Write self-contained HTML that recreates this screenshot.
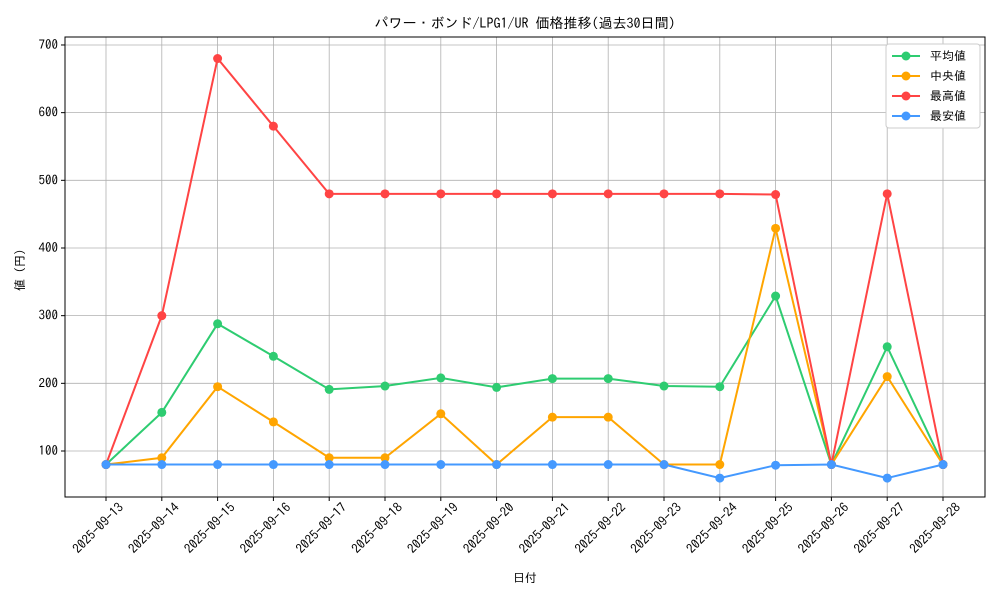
<!DOCTYPE html>
<html><head><meta charset="utf-8"><style>
body{margin:0;background:#fff;}
svg text{font-family:"IPAGothic","Noto Sans CJK JP",monospace;font-size:12px;fill:#000;}
svg text.t{font-size:13px;}
</style></head><body>
<svg id="c" width="1000" height="600" xmlns="http://www.w3.org/2000/svg"></svg>
<script>
const s=document.getElementById('c');
const L=65,R=985,T=37,B=497;
const X=i=>106+i*55.8, Y=v=>451-(v-100)*0.6767;
const dates=[];for(let d=13;d<=28;d++)dates.push('2025-09-'+d);
const series=[
['平均値','#2ecc71',[80,157,288,240,191,196,208,194,207,207,196,195,329,80,254,80]],
['中央値','#ffa500',[80,90,195,143,90,90,155,80,150,150,80,80,429,80,210,80]],
['最高値','#ff4444',[80,300,680,580,480,480,480,480,480,480,480,480,479,80,480,80]],
['最安値','#4499ff',[80,80,80,80,80,80,80,80,80,80,80,60,79,80,60,80]]];
let h='';
for(let i=0;i<16;i++){const x=X(i);h+=`<line x1="${x}" y1="${T}" x2="${x}" y2="${B}" stroke="#b0b0b0" stroke-width="0.8"/>`;
h+=`<line x1="${x}" y1="${B}" x2="${x}" y2="${B+4}" stroke="#000"/>`;
h+=`<text class="t" transform="translate(${x+12},${B+5}) rotate(-45)" text-anchor="end" dominant-baseline="hanging">${dates[i]}</text>`;}
for(let v=100;v<=700;v+=100){const y=Y(v);h+=`<line x1="${L}" y1="${y}" x2="${R}" y2="${y}" stroke="#b0b0b0" stroke-width="0.8"/>`;
h+=`<line x1="${L-4}" y1="${y}" x2="${L}" y2="${y}" stroke="#000"/><text class="t" x="${L-7}" y="${y+4}" text-anchor="end">${v}</text>`;}
h+=`<rect x="${L}" y="${T}" width="${R-L}" height="${B-T}" fill="none" stroke="#000" stroke-width="1"/>`;
for(const [n,c,d] of series){h+=`<polyline fill="none" stroke="${c}" stroke-width="2" points="${d.map((v,i)=>X(i)+','+Y(v)).join(' ')}"/>`;
d.forEach((v,i)=>h+=`<circle cx="${X(i)}" cy="${Y(v)}" r="4.5" fill="${c}"/>`);}
h+=`<rect x="886" y="44" width="94" height="84" fill="#fff" stroke="#ccc" rx="3"/>`;
series.forEach(([n,c],k)=>{const y=56+k*20;h+=`<line x1="892" y1="${y}" x2="920" y2="${y}" stroke="${c}" stroke-width="2"/><circle cx="906" cy="${y}" r="4.5" fill="${c}"/><text x="930" y="${y+4}">${n}</text>`;});
h+=`<text x="525" y="28" text-anchor="middle" style="font-size:14px">パワー・ボンド/LPG1/UR 価格推移(過去30日間)</text>`;
h+=`<text x="525" y="582" text-anchor="middle">日付</text>`;
h+=`<text transform="translate(24,270) rotate(-90)" text-anchor="middle">値 (円)</text>`;
s.innerHTML=h;
</script>
</body></html>
